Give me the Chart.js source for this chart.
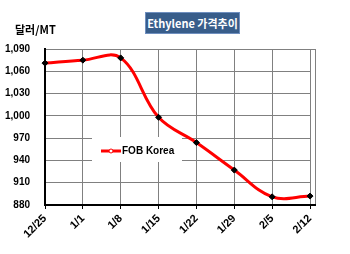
<!DOCTYPE html>
<html>
<head>
<meta charset="utf-8">
<script src="https://cdn.jsdelivr.net/npm/chart.js@4"></script>
<style>
  html, body { margin: 0; padding: 0; background: #fff; }
  #wrap { position: relative; width: 350px; height: 254px; font-family: 'Liberation Sans', Arial, sans-serif; }
  #title {
    position: absolute; left: 145px; top: 12px; width: 95px; height: 22px;
    background: #385d8a; border: 1px solid #6f8fbf; box-sizing: border-box;
    color: #fff; font-weight: bold; font-size: 11px; line-height: 20px; text-align: center;
    font-family: 'Noto Sans CJK KR', 'Liberation Sans', sans-serif;
  }
  #unit {
    position: absolute; left: 15px; top: 21px;
    font-weight: bold; font-size: 11px; color: #000;
    font-family: 'Noto Sans CJK KR', 'Liberation Sans', sans-serif;
  }
  canvas { position: absolute; left: 0; top: 0; }
</style>
</head>
<body>
<div id="wrap">
  <canvas id="chart" width="350" height="254"></canvas>
  <div id="title">Ethylene 가격추이</div>
  <div id="unit">달러/MT</div>
</div>
<script>
  // weekly dates and FOB Korea price (USD/MT)
  const weeks = ['12/25', '1/1', '1/8', '1/15', '1/22', '1/29', '2/5', '2/12'];
  const fobKorea = [1071, 1075, 1078, 998, 964, 927, 891, 892];
  const seriesName = 'FOB Korea';
  const yMin = 880, yMax = 1090, yStep = 30;

  // outer frame slightly wider than last gridline, like the source
  const framePlugin = {
    id: 'frame',
    beforeDatasetsDraw(chart) {
      const { ctx, chartArea: a } = chart;
      ctx.save();
      ctx.strokeStyle = '#808080';
      ctx.lineWidth = 1;
      ctx.beginPath();
      ctx.moveTo(a.right, a.top + 0.5);
      ctx.lineTo(a.right + 5, a.top + 0.5);
      ctx.moveTo(a.right + 5.5, a.top);
      ctx.lineTo(a.right + 5.5, a.bottom);
      ctx.stroke();
      ctx.strokeStyle = '#000';
      ctx.lineWidth = 2;
      ctx.beginPath();
      ctx.moveTo(a.right, a.bottom);
      ctx.lineTo(a.right + 6, a.bottom);
      ctx.stroke();

      // legend box inside the plot
      ctx.fillStyle = '#fff';
      ctx.fillRect(92, 137, 90, 25);
      ctx.strokeStyle = '#ff0000';
      ctx.lineWidth = 3;
      ctx.beginPath();
      ctx.moveTo(101, 151);
      ctx.lineTo(121, 151);
      ctx.stroke();
      ctx.lineWidth = 1;
      ctx.fillStyle = '#fff';
      ctx.beginPath();
      ctx.arc(111, 151, 2, 0, Math.PI * 2);
      ctx.fill();
      ctx.stroke();
      ctx.fillStyle = '#000';
      ctx.font = 'bold 10px "Liberation Sans", Arial, sans-serif';
      ctx.textBaseline = 'middle';
      ctx.fillText(seriesName, 122, 151);
      ctx.restore();
    }
  };

  new Chart(document.getElementById('chart'), {
    type: 'line',
    data: {
      labels: weeks,
      datasets: [{
        label: seriesName,
        data: fobKorea,
        borderColor: '#ff0000',
        borderWidth: 3,
        tension: 0.38,
        pointStyle: 'rectRot',
        pointRadius: 3,
        pointBackgroundColor: '#000',
        pointBorderColor: '#000',
        pointBorderWidth: 1
      }]
    },
    options: {
      responsive: false,
      animation: false,
      layout: { padding: { top: 49, right: 40, left: 0, bottom: 0 } },
      plugins: {
        legend: { display: false },
        tooltip: { enabled: false }
      },
      scales: {
        x: {
          offset: false,
          afterFit: s => { s.height = 49; },
          grid: { color: '#808080', tickColor: '#000', tickLength: 4, lineWidth: 1 },
          border: { color: '#000', width: 2 },
          ticks: {
            color: '#000',
            font: { family: 'Liberation Sans', size: 11, weight: 'bold' },
            minRotation: 45,
            maxRotation: 45,
            autoSkip: false,
            padding: 3
          }
        },
        y: {
          min: yMin,
          max: yMax,
          afterFit: s => { s.width = 45; },
          grid: { color: '#808080', drawTicks: false, lineWidth: 1 },
          border: { color: '#000', width: 2 },
          ticks: {
            stepSize: yStep,
            padding: 15,
            color: '#000',
            font: { family: 'Liberation Sans', size: 10, weight: 'bold' },
            callback: v => v.toLocaleString('en-US')
          }
        }
      }
    },
    plugins: [framePlugin]
  });
</script>
</body>
</html>
